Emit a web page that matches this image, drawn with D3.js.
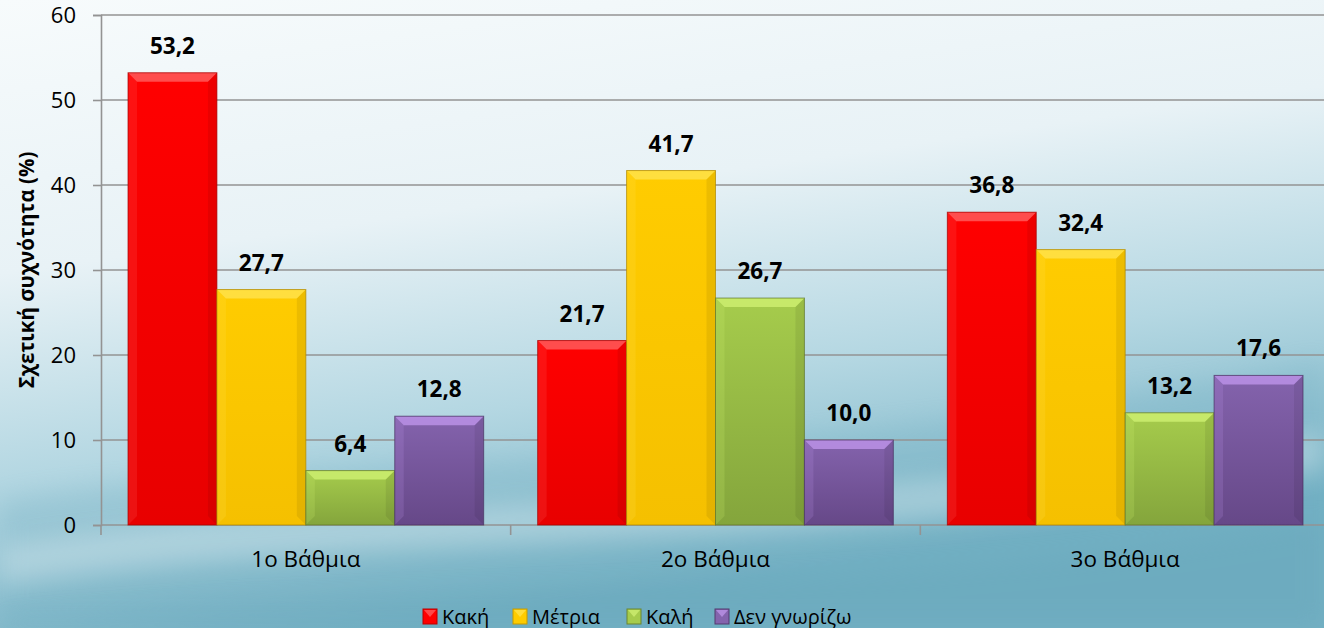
<!DOCTYPE html>
<html>
<head>
<meta charset="utf-8">
<script src="https://cdn.jsdelivr.net/npm/d3@7"></script>
<style>
  body { margin: 0; overflow: hidden; }
  text { font-family: "Open Sans", "Noto Sans", sans-serif; }
</style>
</head>
<body>
<div id="canvas"></div>
<script>
// chart values
const groups = ["1ο Βάθμια", "2ο Βάθμια", "3ο Βάθμια"];
const seriesNames = ["Κακή", "Μέτρια", "Καλή", "Δεν γνωρίζω"];
const kaki = [53.2, 21.7, 36.8];
const metria = [27.7, 41.7, 32.4];
const kali = [6.4, 26.7, 13.2];
const denGnorizo = [12.8, 10.0, 17.6];
const yTicks = [0, 10, 20, 30, 40, 50, 60];

const width = 1324, height = 628;
const margin = { top: 15, left: 101, bottom: 103 };
const plotRight = 1330;

// colours: main, light (top bevel), dark (bottom)
const colors = [
    { main: "#ff0000", light: "#ff5a5a", dark: "#e80000" },
    { main: "#ffcc00", light: "#ffe24a", dark: "#f5c000" },
    { main: "#a6cc4c", light: "#cdee70", dark: "#84a53c" },
    { main: "#8463ad", light: "#bb92e6", dark: "#664888" }
];

const allSeries = [kaki, metria, kali, denGnorizo];

const svg = d3.select("#canvas").append("svg")
    .attr("width", width).attr("height", height);

const defs = svg.append("defs");

// background gradient
const bg = defs.append("linearGradient").attr("id", "bg")
    .attr("x1", "0").attr("y1", "0").attr("x2", "0.3").attr("y2", "1");
bg.append("stop").attr("offset", "0").attr("stop-color", "#f7fbfc");
bg.append("stop").attr("offset", "0.4").attr("stop-color", "#e8f2f6");
bg.append("stop").attr("offset", "0.7").attr("stop-color", "#b4d7e2");
bg.append("stop").attr("offset", "1").attr("stop-color", "#74b1c4");
svg.append("rect").attr("width", width).attr("height", height).attr("fill", "url(#bg)");

const blur = defs.append("filter").attr("id", "soft").attr("x", "-10%").attr("y", "-50%")
    .attr("width", "120%").attr("height", "200%");
blur.append("feGaussianBlur").attr("stdDeviation", 12);

// soft waves in background
const waves = [
    { d: "M0,500 C300,450 700,480 1324,360 L1324,628 L0,628 Z", c: "#6aa9bd", o: 0.22 },
    { d: "M0,545 C350,490 800,520 1324,430 L1324,470 C800,560 350,530 0,585 Z", c: "#ffffff", o: 0.28 },
    { d: "M0,620 C400,580 900,600 1324,520 L1324,628 L0,628 Z", c: "#5f9fb4", o: 0.2 }
];
svg.selectAll("path.wave").data(waves).join("path")
    .attr("class", "wave")
    .attr("d", d => d.d)
    .attr("fill", d => d.c)
    .attr("opacity", d => d.o)
    .attr("filter", "url(#soft)");

// bar gradients
colors.forEach((c, i) => {
    const g = defs.append("linearGradient").attr("id", "bar" + i)
        .attr("x1", 0).attr("y1", 0).attr("x2", 0).attr("y2", 1);
    g.append("stop").attr("offset", "0").attr("stop-color", c.main);
    g.append("stop").attr("offset", "1").attr("stop-color", c.dark);
});

const y = d3.scaleLinear().domain([0, 60]).range([height - margin.bottom, margin.top]);
const x0 = d3.scaleBand().domain(groups).range([margin.left, plotRight]).paddingInner(0).paddingOuter(0);
const x1 = d3.scaleBand().domain(seriesNames).range([27, x0.bandwidth() - 27]).padding(0);

// gridlines
svg.append("g").selectAll("line").data(yTicks.filter(d => d > 0)).join("line")
    .attr("x1", margin.left).attr("x2", width)
    .attr("y1", d => y(d)).attr("y2", d => y(d))
    .attr("stroke", "#939393").attr("stroke-width", 1.6);

// y axis
const yAxis = svg.append("g").attr("transform", `translate(${margin.left},0)`)
    .call(d3.axisLeft(y).tickValues(yTicks).tickSize(8).tickPadding(17));
yAxis.select(".domain").attr("stroke", "#939393").attr("stroke-width", 1.6);
yAxis.selectAll(".tick line").attr("stroke", "#939393").attr("stroke-width", 1.6);
yAxis.selectAll(".tick text").attr("font-size", 22).attr("fill", "#000")
    .attr("font-family", "'Open Sans', sans-serif");

// x axis
const xAxis = svg.append("g").attr("transform", `translate(0,${y(0)})`);
xAxis.append("line").attr("x1", margin.left).attr("x2", width)
    .attr("stroke", "#939393").attr("stroke-width", 1.6);
xAxis.selectAll("line.tk").data(groups.concat(["end"])).join("line")
    .attr("class", "tk")
    .attr("x1", (d, i) => margin.left + i * x0.bandwidth())
    .attr("x2", (d, i) => margin.left + i * x0.bandwidth())
    .attr("y1", 0).attr("y2", 10)
    .attr("stroke", "#939393").attr("stroke-width", 1.6);
xAxis.selectAll("text").data(groups).join("text")
    .attr("x", d => x0(d) + x0.bandwidth() / 2)
    .attr("y", 42)
    .attr("text-anchor", "middle")
    .attr("font-size", 22.5)
    .text(d => d);

// bars
const fmt = v => v.toFixed(1).replace(".", ",");
allSeries.forEach((vals, si) => {
    const c = colors[si];
    const g = svg.append("g");
    groups.forEach((grp, gi) => {
        const v = vals[gi];
        const bx = x0(grp) + x1(seriesNames[si]);
        const bw = x1.bandwidth();
        const by = y(v), bh = y(0) - y(v);
        const bar = g.append("g");
        bar.append("rect").attr("x", bx).attr("y", by).attr("width", bw).attr("height", bh)
            .attr("fill", `url(#bar${si})`);
        // top bevel
        const b = Math.min(9, bh / 2);
        bar.append("path")
            .attr("d", `M${bx},${by} L${bx + bw},${by} L${bx + bw - b},${by + b} L${bx + b},${by + b} Z`)
            .attr("fill", c.light).attr("opacity", 0.85);
        // side bevels
        bar.append("path")
            .attr("d", `M${bx},${by} L${bx + b},${by + b} L${bx + b},${by + bh - b} L${bx},${by + bh} Z`)
            .attr("fill", c.light).attr("opacity", 0.2);
        bar.append("path")
            .attr("d", `M${bx + bw},${by} L${bx + bw - b},${by + b} L${bx + bw - b},${by + bh - b} L${bx + bw},${by + bh} Z`)
            .attr("fill", "#000").attr("opacity", 0.07);
        bar.append("rect").attr("x", bx).attr("y", by).attr("width", bw).attr("height", bh)
            .attr("fill", "none").attr("stroke", d3.color(c.dark).darker(1)).attr("stroke-width", 1)
            .attr("stroke-opacity", 0.7);
        // value label
        svg.append("text")
            .attr("x", bx + bw / 2)
            .attr("y", by - 19)
            .attr("text-anchor", "middle")
            .attr("font-size", 22.5).attr("font-weight", "bold")
            .text(fmt(v));
    });
});

// y axis title
svg.append("text")
    .attr("transform", `translate(34,${y(30)}) rotate(-90)`)
    .attr("text-anchor", "middle")
    .attr("font-size", 20.5).attr("font-weight", "bold")
    .text("Σχετική συχνότητα (%)");

// legend
const legendX = [423, 513, 627, 715];
const legend = svg.append("g").selectAll("g").data(seriesNames).join("g")
    .attr("transform", (d, i) => `translate(${legendX[i]},609)`);
legend.append("rect").attr("width", 14).attr("height", 15)
    .attr("fill", (d, i) => colors[i].main)
    .attr("stroke", (d, i) => d3.color(colors[i].dark).darker(0.6)).attr("stroke-width", 1);
legend.append("path").attr("d", "M1,1 L13,1 L7,8 Z")
    .attr("fill", (d, i) => colors[i].light).attr("opacity", 0.8);
legend.append("text").attr("x", 19).attr("y", 14.5)
    .attr("font-size", 20)
    .text(d => d);
</script>
</body>
</html>
